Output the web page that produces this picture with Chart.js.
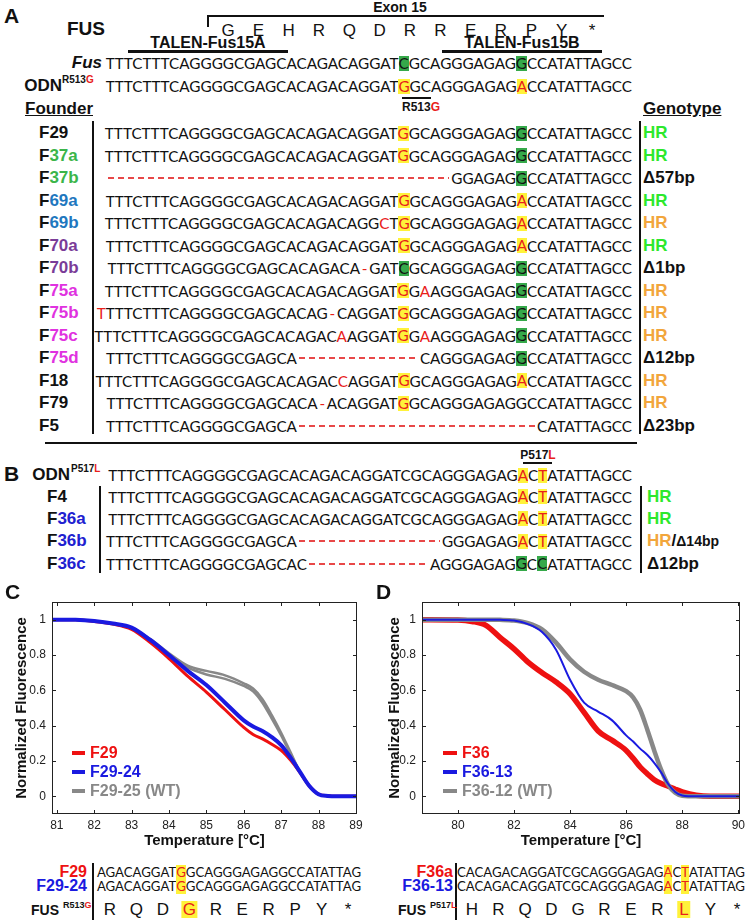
<!DOCTYPE html>
<html>
<head>
<meta charset="utf-8">
<script src="https://cdn.jsdelivr.net/npm/chart.js@4.4.1/dist/chart.umd.min.js"></script>
<style>
  body { margin: 0; background: #fff; }
  #page { position: relative; width: 750px; height: 923px; overflow: hidden; font-family: "Liberation Sans", Arial, sans-serif; color: #111; }
  .t { position: absolute; white-space: nowrap; font-weight: bold; line-height: 20px; height: 20px; }
  .seq { position: absolute; display: flex; align-items: center; white-space: pre; font-family: Lato, sans-serif; height: 20px; line-height: 20px; color: #111; }
  .y { background: #fff23a; color: #e8201a; display: inline-block; line-height: 15px; }
  .g { background: #36a94a; display: inline-block; line-height: 15px; }
  .r { color: #e8201a; }
  .h { color: #e8201a; display: inline-block; width: 0.6em; text-align: center; }
  .fill { flex: 1; height: 2px; margin: 0 2px; background: repeating-linear-gradient(90deg, #e84848 0 6px, transparent 6px 10px); }
  .ln { position: absolute; background: #111; }
  canvas { position: absolute; }
</style>
</head>
<body>
<div id="page">
  <canvas id="chartC" width="372" height="262" style="left:0;top:588px"></canvas>
  <canvas id="chartD" width="378" height="262" style="left:372px;top:588px"></canvas>
</div>
<script>
// ---------- melting curves, panel C ----------
const tempC = [80.87, 81, 81.5, 82, 82.5, 83, 83.5, 84, 84.5, 85, 85.5, 86, 86.25, 86.5, 86.75, 87, 87.25, 87.5, 87.75, 88, 88.25, 88.5, 89, 89.03];
const f29 = [1, 1, 0.999, 0.99, 0.975, 0.945, 0.87, 0.78, 0.68, 0.59, 0.49, 0.39, 0.35, 0.325, 0.295, 0.26, 0.205, 0.136, 0.06, 0.013, 0.003, 0, 0, 0];
const f29_24 = [1, 1, 0.999, 0.992, 0.978, 0.955, 0.885, 0.80, 0.71, 0.63, 0.53, 0.43, 0.395, 0.37, 0.335, 0.29, 0.22, 0.14, 0.06, 0.012, 0.002, 0, 0, 0];
const f29_25a = [1, 1, 0.999, 0.992, 0.978, 0.952, 0.89, 0.81, 0.74, 0.71, 0.685, 0.64, 0.61, 0.55, 0.46, 0.36, 0.25, 0.14, 0.06, 0.012, 0.002, 0, 0, 0];
const f29_25b = [1, 1, 0.999, 0.992, 0.976, 0.948, 0.882, 0.80, 0.73, 0.69, 0.665, 0.625, 0.595, 0.53, 0.44, 0.345, 0.24, 0.14, 0.06, 0.012, 0.002, 0, 0, 0];
const ticksXC = [81, 82, 83, 84, 85, 86, 87, 88, 89];

// ---------- melting curves, panel D ----------
const tempD = [78.72, 79, 80, 80.5, 81, 81.5, 82, 82.5, 83, 83.5, 84, 84.5, 85, 85.5, 86, 86.25, 86.5, 86.75, 87, 87.25, 87.5, 87.75, 88, 88.5, 89, 90, 90.06];
const f36 = [1, 1, 0.998, 0.99, 0.968, 0.90, 0.835, 0.76, 0.70, 0.647, 0.58, 0.475, 0.37, 0.317, 0.26, 0.215, 0.166, 0.128, 0.094, 0.072, 0.057, 0.04, 0.025, 0.006, 0, 0, 0];
const f36_13 = [1, 1, 1, 1, 1, 0.999, 0.995, 0.975, 0.93, 0.83, 0.66, 0.53, 0.48, 0.43, 0.345, 0.31, 0.27, 0.235, 0.19, 0.135, 0.07, 0.025, 0.005, 0, 0, 0, 0];
const f36_12 = [1, 1, 1, 1, 1, 0.999, 0.995, 0.98, 0.945, 0.87, 0.775, 0.705, 0.66, 0.63, 0.595, 0.56, 0.49, 0.38, 0.26, 0.15, 0.065, 0.02, 0.003, 0, 0, 0, 0];
const ticksXD = [80, 82, 84, 86, 88, 90];
const ticksY = [0, 0.2, 0.4, 0.6, 0.8, 1];

// ---------- sequence panels ----------
// ^X yellow box red letter, #X green box, !X red letter, - red gap, ~ run of deleted bases
const fullSeq = 'TTTCTTTCAGGGGCGAGCACAGACAGGATCGCAGGGAGAGGCCATATTAGCC';
const founderA = [
  ['29', '#111', 'TTTCTTTCAGGGGCGAGCACAGACAGGAT^GGCAGGGAGAG#GCCATATTAGCC', 'hg'],
  ['37a', '#3bb54a', 'TTTCTTTCAGGGGCGAGCACAGACAGGAT^GGCAGGGAGAG#GCCATATTAGCC', 'hg'],
  ['37b', '#3bb54a', '~GGAGAG#GCCATATTAGCC', '\u039457bp'],
  ['69a', '#1f78bf', 'TTTCTTTCAGGGGCGAGCACAGACAGGAT^GGCAGGGAGAG^ACCATATTAGCC', 'hg'],
  ['69b', '#1f78bf', 'TTTCTTTCAGGGGCGAGCACAGACAGG!CT^GGCAGGGAGAG^ACCATATTAGCC', 'ho'],
  ['70a', '#7a3c98', 'TTTCTTTCAGGGGCGAGCACAGACAGGAT^GGCAGGGAGAG^ACCATATTAGCC', 'hg'],
  ['70b', '#7a3c98', 'TTTCTTTCAGGGGCGAGCACAGACA-GAT#CGCAGGGAGAG#GCCATATTAGCC', '\u03941bp'],
  ['75a', '#e032e0', 'TTTCTTTCAGGGGCGAGCACAGACAGGAT^GG!AAGGGAGAG#GCCATATTAGCC', 'ho'],
  ['75b', '#e032e0', '!TTTTCTTTCAGGGGCGAGCACAG-CAGGAT^GGCAGGGAGAG#GCCATATTAGCC', 'ho'],
  ['75c', '#e032e0', 'TTTCTTTCAGGGGCGAGCACAGAC!AAGGAT^GG!AAGGGAGAG#GCCATATTAGCC', 'ho'],
  ['75d', '#e032e0', 'TTTCTTTCAGGGGCGAGCA~CAGGGAGAG#GCCATATTAGCC', '\u039412bp'],
  ['18', '#111', 'TTTCTTTCAGGGGCGAGCACAGAC!CAGGAT^GGCAGGGAGAG^ACCATATTAGCC', 'ho'],
  ['79', '#111', 'TTTCTTTCAGGGGCGAGCACA-ACAGGAT^GGCAGGGAGAGGCCATATTAGCC', 'ho'],
  ['5', '#111', 'TTTCTTTCAGGGGCGAGCA~CATATTAGCC', '\u039423bp']
];
const odnB = 'TTTCTTTCAGGGGCGAGCACAGACAGGATCGCAGGGAGAG^AC^TATATTAGCC';
const founderB = [
  ['4', '#111', 'TTTCTTTCAGGGGCGAGCACAGACAGGATCGCAGGGAGAG^AC^TATATTAGCC', 'hg'],
  ['36a', '#2020d0', 'TTTCTTTCAGGGGCGAGCACAGACAGGATCGCAGGGAGAG^AC^TATATTAGCC', 'hg'],
  ['36b', '#2020d0', 'TTTCTTTCAGGGGCGAGCA~GGGAGAG^AC^TATATTAGCC', 'hd'],
  ['36c', '#2020d0', 'TTTCTTTCAGGGGCGAGCAC~AGGGAGAG#GC#CATATTAGCC', '\u039412bp']
];
const aminoTop = ['G', 'E', 'H', 'R', 'Q', 'D', 'R', 'R', 'E', 'R', 'P', 'Y', '*'];
const aminoC = ['R', 'Q', 'D', 'G', 'R', 'E', 'R', 'P', 'Y', '*'];
const aminoD = ['H', 'R', 'Q', 'D', 'G', 'R', 'E', 'R', 'L', 'Y', '*'];

const HR_GREEN = '#2de82d', HR_ORANGE = '#f2a63c', RED = '#e8201a';
const page = document.getElementById('page');

function put(html, x, y, style, align) {
  const d = document.createElement('div');
  d.className = 't';
  d.innerHTML = html;
  d.style.top = (y - 10) + 'px';
  if (align === 'right') d.style.right = (750 - x) + 'px';
  else d.style.left = x + 'px';
  if (align === 'center') d.style.transform = 'translateX(-50%)';
  d.style.cssText += style || '';
  page.appendChild(d);
}
function line(x, y, w, h, color) {
  const d = document.createElement('div');
  d.className = 'ln';
  d.style.cssText = `left:${x}px;top:${y}px;width:${w}px;height:${h}px;` + (color ? `background:${color}` : '');
  page.appendChild(d);
}
function fit(text, width) {
  const ctx = document.createElement('canvas').getContext('2d');
  ctx.font = '100px Lato';
  return 100 * width / ctx.measureText(text).width;
}
function seqHTML(s) {
  let out = '';
  for (let i = 0; i < s.length; i++) {
    const c = s[i];
    if (c === '^') out += `<span class="y">${s[++i]}</span>`;
    else if (c === '#') out += `<span class="g">${s[++i]}</span>`;
    else if (c === '!') out += `<span class="r">${s[++i]}</span>`;
    else if (c === '-') out += '<span class="h">-</span>';
    else if (c === '~') out += '<span class="fill"></span>';
    else out += c;
  }
  return out;
}
function seqRow(s, y, L, R, size) {
  const d = document.createElement('div');
  d.className = 'seq';
  d.innerHTML = seqHTML(s);
  d.style.fontSize = size + 'px';
  d.style.top = (y - 10) + 'px';
  if (s.includes('~')) { d.style.left = L + 'px'; d.style.width = (R - L) + 'px'; }
  else d.style.right = (750 - R) + 'px';
  page.appendChild(d);
}
function genotype(g) {
  if (g === 'hg') return `<span style="color:${HR_GREEN}">HR</span>`;
  if (g === 'ho') return `<span style="color:${HR_ORANGE}">HR</span>`;
  if (g === 'hd') return `<span style="color:${HR_ORANGE}">HR</span>/<span style="font-size:14px">\u039414bp</span>`;
  return g;
}

// ----- panel A -----
const sizeA = fit(fullSeq, 526);
put('A', 4, 16, 'font-size:21px');
put('FUS', 67, 29, 'font-size:19px');
put('Exon 15', 400, 7, 'font-size:14px', 'center');
line(207, 15, 397, 1.5);
line(207, 15, 1.5, 12);
aminoTop.forEach((a, i) => put(a, 228 + i * (592 - 228) / 12, 31, 'font-size:17px;font-weight:normal', 'center'));
put('TALEN-Fus15A', 208, 43, 'font-size:16px', 'center');
line(128, 50, 160, 3);
put('TALEN-Fus15B', 522, 43, 'font-size:16px', 'center');
line(442, 50, 160, 3);
put('<i>Fus</i>', 102, 63, 'font-size:17px', 'right');
seqRow('TTTCTTTCAGGGGCGAGCACAGACAGGAT#CGCAGGGAGAG#GCCATATTAGCC', 63, 106, 632, sizeA);
put('ODN', 62, 86, 'font-size:17px', 'right');
put(`R513<span style="color:${RED}">G</span>`, 62, 80, 'font-size:10px');
seqRow('TTTCTTTCAGGGGCGAGCACAGACAGGAT^GGCAGGGAGAG^ACCATATTAGCC', 86, 106, 632, sizeA);
line(402, 97, 29, 2);
put(`R513<span style="color:${RED}">G</span>`, 402, 107, 'font-size:12px');
put('Founder', 25, 109, 'font-size:17px;text-decoration:underline');
put('Genotype', 643, 109, 'font-size:17px;text-decoration:underline');
line(92, 121, 1.5, 313);
line(639, 121, 1.5, 313);
founderA.forEach((f, i) => {
  const y = 133 + i * 22.5;
  put(`F<span style="color:${f[1]}">${f[0]}</span>`, 39, y, 'font-size:17px');
  seqRow(f[2], y, 106, 632, sizeA);
  put(genotype(f[3]), 643, y, 'font-size:17px');
});
line(45, 442, 592, 2);

// ----- panel B -----
put('B', 4, 474, 'font-size:21px');
put('ODN', 70, 475, 'font-size:17px', 'right');
put(`P517<span style="color:${RED}">L</span>`, 71, 469, 'font-size:10px');
put(`P517<span style="color:${RED}">L</span>`, 538, 455, 'font-size:12px', 'center');
line(523, 462, 29, 2);
seqRow(odnB, 475, 106, 632, sizeA);
line(99, 486, 1.5, 87);
line(640, 486, 1.5, 87);
founderB.forEach((f, i) => {
  const y = 496.5 + i * 22.4;
  put(`F<span style="color:${f[1]}">${f[0]}</span>`, 47, y, 'font-size:17px');
  seqRow(f[2], y, 106, 632, sizeA);
  put(genotype(f[3]), 647, y, 'font-size:17px');
});

// ----- panels C and D: labels, legends, sequences -----
put('C', 5, 592, 'font-size:21px');
put('D', 376, 592, 'font-size:21px');
const legendC = [['F29', '#ee1111'], ['F29-24', '#1a1ae0'], ['F29-25 (WT)', '#888']];
const legendD = [['F36', '#ee1111'], ['F36-13', '#1a1ae0'], ['F36-12 (WT)', '#888']];
[753, 772, 791].forEach((y, i) => {
  line(72, y - 2, 13, 4, legendC[i][1]);
  put(legendC[i][0], 90, y, `font-size:16px;color:${legendC[i][1]}`);
  line(443, y - 2, 14, 4, legendD[i][1]);
  put(legendD[i][0], 462, y, `font-size:16px;color:${legendD[i][1]}`);
});

const seqC = 'AGACAGGAT^GGCAGGGAGAGGCCATATTAG';
const seqD = 'CACAGACAGGATCGCAGGGAGAG^AC^TATATTAG';
const sizeC = fit(seqC.replace(/\^/g, ''), 264);
const sizeD = fit(seqD.replace(/\^/g, ''), 287);
put('F29', 87, 872, `font-size:16px;color:#ee1111`, 'right');
put('F29-24', 87, 886, `font-size:16px;color:#1a1ae0`, 'right');
seqRow(seqC, 872, 96, 361, sizeC);
seqRow(seqC, 886, 96, 361, sizeC);
line(92, 863, 1.5, 57);
put('FUS', 31, 910, 'font-size:14px');
put(`R513<span style="color:${RED}">G</span>`, 63, 905, 'font-size:9px');
aminoC.forEach((a, i) => {
  const hl = a === 'G' && i === 3;
  put(hl ? `<span style="background:#fff23a;color:${RED};padding:0 1px;line-height:17px;display:inline-block">${a}</span>` : a,
    110 + i * (348 - 110) / 9, 910, 'font-size:17px;font-weight:normal', 'center');
});
put('F36a', 453, 872, `font-size:16px;color:#ee1111`, 'right');
put('F36-13', 453, 886, `font-size:16px;color:#1a1ae0`, 'right');
seqRow(seqD, 872, 458, 745, sizeD);
seqRow(seqD, 886, 458, 745, sizeD);
line(455, 863, 1.5, 57);
put('FUS', 398, 910, 'font-size:14px');
put(`P517<span style="color:${RED}">L</span>`, 430, 905, 'font-size:9px');
aminoD.forEach((a, i) => {
  const hl = a === 'L';
  put(hl ? `<span style="background:#fff23a;color:${RED};padding:0 2px;line-height:17px;display:inline-block">${a}</span>` : a,
    472 + i * (737 - 472) / 10, 910, 'font-size:17px;font-weight:normal', 'center');
});

// ----- charts -----
Chart.defaults.font.family = '"Liberation Sans", Arial, sans-serif';

const insideTicks = {
  id: 'insideTicks',
  afterDraw(chart) {
    const { ctx, chartArea: a, scales: { x, y } } = chart;
    ctx.save();
    ctx.strokeStyle = '#222';
    ctx.lineWidth = 1;
    ctx.strokeRect(a.left + 0.5, a.top + 0.5, a.width - 1, a.height - 1);
    ctx.beginPath();
    x.ticks.forEach(t => {
      const px = Math.round(x.getPixelForValue(t.value)) + 0.5;
      ctx.moveTo(px, a.bottom); ctx.lineTo(px, a.bottom - 4);
      ctx.moveTo(px, a.top); ctx.lineTo(px, a.top + 4);
    });
    y.ticks.forEach(t => {
      const py = Math.round(y.getPixelForValue(t.value)) + 0.5;
      ctx.moveTo(a.left, py); ctx.lineTo(a.left + 4, py);
      ctx.moveTo(a.right, py); ctx.lineTo(a.right - 4, py);
    });
    ctx.stroke();
    ctx.restore();
  }
};

function pts(xs, ys) {
  return xs.map((x, i) => ({ x: x, y: ys[i] }));
}

function meltChart(id, cfg) {
  return new Chart(document.getElementById(id), {
    type: 'line',
    data: {
      datasets: cfg.sets.map(s => ({
        data: pts(cfg.temps, s.values),
        borderColor: s.color,
        borderWidth: s.width,
        pointRadius: 0,
        cubicInterpolationMode: 'monotone',
        order: s.order,
        fill: false
      }))
    },
    options: {
      responsive: false,
      animation: false,
      layout: { padding: { top: 14, right: cfg.padRight, left: 0, bottom: 0 } },
      plugins: { legend: { display: false }, tooltip: { enabled: false } },
      scales: {
        x: {
          type: 'linear',
          min: cfg.xMin,
          max: cfg.xMax,
          afterBuildTicks: s => { s.ticks = cfg.xTicks.map(v => ({ value: v })); },
          afterFit: s => { s.height = 36; },
          grid: { display: false, drawTicks: false },
          border: { display: false },
          ticks: { color: '#222', font: { size: 12 }, padding: 4, maxRotation: 0, autoSkip: false, callback: v => String(v) },
          title: { display: true, text: 'Temperature [°C]', color: '#111', font: { size: 15, weight: 'bold' }, padding: { top: 0, bottom: 0 } }
        },
        y: {
          type: 'linear',
          min: -0.1,
          max: 1.1,
          afterBuildTicks: s => { s.ticks = ticksY.map(v => ({ value: v })); },
          afterFit: s => { s.width = cfg.yWidth; },
          grid: { display: false, drawTicks: false },
          border: { display: false },
          ticks: { color: '#222', font: { size: 12 }, padding: 6, callback: v => String(Math.round(v * 10) / 10) },
          title: { display: true, text: 'Normalized Fluorescence', color: '#111', font: { size: 15, weight: 'bold' }, padding: { top: cfg.yTitlePad, bottom: 0 } }
        }
      }
    },
    plugins: [insideTicks]
  });
}

meltChart('chartC', {
  temps: tempC, xMin: 80.87, xMax: 89.03, xTicks: ticksXC, padRight: 15, yWidth: 52, yTitlePad: 13,
  sets: [
    { values: f29_25a, color: '#888888', width: 2.5, order: 4 },
    { values: f29_25b, color: '#888888', width: 2.5, order: 3 },
    { values: f29, color: '#ee1111', width: 3, order: 2 },
    { values: f29_24, color: '#1a1ae0', width: 4, order: 1 }
  ]
});

meltChart('chartD', {
  temps: tempD, xMin: 78.72, xMax: 90.06, xTicks: ticksXD, padRight: 10, yWidth: 50, yTitlePad: 14,
  sets: [
    { values: f36, color: '#ee1111', width: 5.5, order: 3 },
    { values: f36_12, color: '#888888', width: 4.5, order: 2 },
    { values: f36_13, color: '#1a1ae0', width: 2, order: 1 }
  ]
});
</script>
</body>
</html>
